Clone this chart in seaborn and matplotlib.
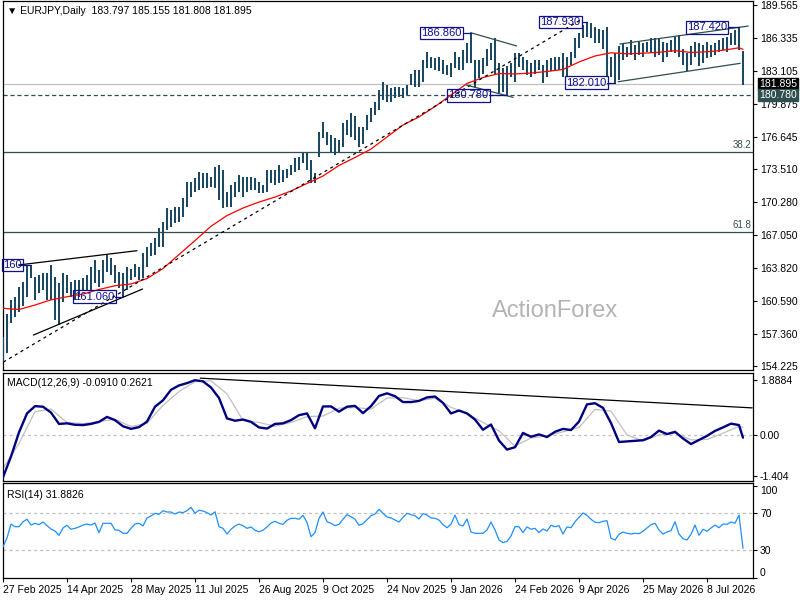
import numpy as np
import pandas as pd
import matplotlib
matplotlib.use("Agg")
import matplotlib.pyplot as plt
import matplotlib.transforms as mtransforms
import seaborn as sns

sns.set_theme(style="white")
plt.rcParams['font.family'] = ['Liberation Sans', 'DejaVu Sans']
plt.rcParams['lines.scale_dashes'] = False

# ---------------- data (one bar per 2 sessions) ----------------
highs = [157.1, 159.4, 160.7, 161.05, 162.0, 162.5, 164.15, 164.15, 163.0, 163.2,
         163.35, 163.35, 164.15, 163.0, 162.35, 163.35, 163.2, 162.5, 162.7, 162.7,
         162.85, 163.2, 164.0, 164.65, 163.65, 164.65, 165.1, 164.8, 164.15, 163.5,
         163.35, 164.0, 163.8, 164.3, 164.0, 165.3, 165.95, 166.3, 166.8, 167.75,
         168.4, 169.7, 169.5, 169.85, 169.85, 170.7, 172.3, 172.3, 172.65, 173.3,
         173.15, 173.15, 172.8, 173.8, 173.95, 173.45, 171.35, 172.0, 172.3, 172.95,
         172.8, 172.8, 172.8, 172.65, 172.3, 172.0, 173.45, 173.45, 173.45, 173.95,
         173.45, 173.6, 173.95, 174.6, 174.75, 175.1, 175.1, 174.45, 173.15, 177.2,
         178.2, 177.2, 176.9, 176.55, 176.4, 178.05, 178.35, 179.0, 178.7, 177.7,
         177.7, 178.85, 179.5, 180.15, 181.3, 182.1, 181.8, 181.45, 181.6, 181.6,
         181.45, 181.8, 182.9, 183.25, 183.25, 184.2, 185.05, 184.55, 184.4, 184.55,
         184.2, 183.75, 183.9, 185.05, 184.55, 185.2, 185.85, 186.86, 184.2, 184.2,
         184.4, 185.35, 185.85, 186.4, 183.9, 183.4, 183.6, 183.9, 184.9, 184.9,
         184.55, 184.2, 183.9, 184.2, 184.2, 183.75, 184.2, 184.4, 184.55, 184.55,
         184.9, 184.55, 185.05, 186.35, 186.9, 187.7, 187.93, 187.8, 187.5, 187.3,
         187.15, 187.5, 184.55, 184.9, 185.55, 185.85, 185.5, 186.2, 185.7, 186.0,
         185.85, 186.0, 186.35, 186.35, 186.35, 186.0, 185.85, 186.2, 186.5, 186.65,
         185.35, 184.9, 185.55, 186.0, 185.85, 185.7, 186.0, 185.7, 185.85, 186.2,
         186.35, 186.5, 186.85, 187.15, 187.42, 185.155]
lows = [154.7, 155.5, 158.45, 159.1, 159.6, 160.1, 161.05, 162.85, 160.7, 161.4,
        161.7, 160.7, 160.7, 158.8, 158.3, 160.55, 161.4, 161.05, 160.7, 161.05,
        161.7, 161.7, 161.7, 162.35, 162.0, 162.35, 163.5, 163.2, 162.35, 161.9,
        161.06, 161.7, 162.7, 163.0, 162.7, 162.85, 164.0, 165.0, 165.1, 165.95,
        165.95, 167.6, 167.9, 168.25, 168.4, 168.9, 169.85, 170.85, 171.3, 171.5,
        171.65, 171.65, 171.8, 171.65, 170.5, 169.7, 169.85, 169.85, 170.85, 171.35,
        170.85, 171.35, 171.5, 171.5, 171.2, 171.2, 171.35, 172.15, 172.0, 172.15,
        172.3, 172.65, 172.95, 173.3, 173.45, 174.1, 173.45, 172.15, 172.15, 174.75,
        176.55, 175.9, 175.25, 174.9, 175.25, 175.75, 176.9, 176.7, 176.4, 175.75,
        176.05, 177.35, 178.2, 178.85, 179.3, 180.3, 180.1, 180.15, 180.5, 180.6,
        180.5, 180.8, 181.8, 181.6, 181.6, 182.1, 183.4, 183.4, 183.25, 183.1,
        182.9, 182.75, 182.6, 183.4, 183.25, 183.25, 183.9, 183.9, 181.45, 182.45,
        182.9, 183.6, 184.2, 182.9, 180.95, 181.1, 180.78, 182.6, 182.1, 183.55,
        183.25, 182.75, 182.6, 182.9, 183.25, 181.95, 182.6, 183.1, 183.1, 183.25,
        182.6, 182.6, 183.75, 184.4, 185.4, 186.4, 186.5, 186.35, 185.85, 185.85,
        185.35, 182.7, 182.6, 182.01, 182.3, 184.2, 184.55, 184.7, 184.2, 184.7,
        184.55, 185.05, 184.9, 184.55, 184.7, 184.05, 184.55, 185.05, 184.9, 184.55,
        183.75, 183.1, 183.75, 184.55, 183.6, 183.9, 184.4, 184.55, 184.7, 185.05,
        185.2, 185.05, 185.7, 185.7, 185.2, 181.808]

ma_idx = list(range(0, 185, 4)) + [185]
ma_vals = [159.92, 159.80, 160.24, 160.75, 161.05, 161.32, 161.76, 162.13, 162.30, 162.83,
           163.81, 165.18, 166.55, 167.95, 169.00, 169.74, 170.32, 170.81, 171.40, 172.14,
           172.87, 173.90, 174.68, 175.51, 176.69, 177.86, 178.65, 179.67, 180.80, 181.93,
           182.51, 182.90, 182.86, 182.95, 183.10, 183.30, 184.03, 184.62, 184.93, 184.83,
           184.89, 184.98, 185.14, 184.96, 185.03, 185.18, 185.42, 185.27]

macd_idx = list(range(0, 185, 2)) + [185]
macd_vals = [-1.45, -0.74, 0.09, 0.74, 0.99, 0.97, 0.77, 0.38, 0.40, 0.35,
             0.34, 0.38, 0.45, 0.62, 0.51, 0.30, 0.21, 0.27, 0.46, 0.97,
             1.19, 1.55, 1.70, 1.78, 1.88, 1.84, 1.63, 1.27, 0.57, 0.49,
             0.53, 0.45, 0.26, 0.22, 0.38, 0.40, 0.51, 0.68, 0.74, 0.23,
             0.98, 0.98, 0.80, 0.97, 1.00, 0.75, 0.99, 1.34, 1.43, 1.33,
             1.13, 1.13, 1.17, 1.29, 1.32, 1.10, 0.74, 0.84, 0.74, 0.53,
             0.18, 0.36, -0.19, -0.50, -0.42, 0.07, -0.06, 0.02, -0.07, 0.11,
             0.21, 0.17, 0.46, 1.05, 1.09, 0.93, 0.41, -0.24, -0.22, -0.20,
             -0.18, -0.07, 0.15, 0.03, 0.11, -0.12, -0.31, -0.17, -0.03, 0.14,
             0.26, 0.39, 0.34, -0.091]

signal_idx = list(range(0, 185, 4)) + [185]
signal_vals = [-1.14, -0.29, 0.80, 0.89, 0.43, 0.39, 0.46, 0.54, 0.29, 0.40,
               1.02, 1.49, 1.83, 1.86, 1.41, 0.50, 0.43, 0.30, 0.43, 0.63,
               0.65, 0.92, 0.94, 0.89, 1.27, 1.28, 1.18, 1.26, 0.95, 0.74,
               0.43, 0.14, -0.38, -0.10, -0.03, 0.11, 0.26, 0.88, 0.82, 0.00,
               -0.20, 0.00, 0.06, -0.17, -0.15, 0.06, 0.30, 0.262]

rsi_vals = [33.6, 43.1, 58.3, 55.4, 55.4, 60.8, 63.5, 57.2, 59.1, 57.6,
            60.5, 56.5, 52.9, 50.7, 46.0, 54.0, 56.9, 52.6, 53.6, 55.1,
            57.2, 58.3, 57.2, 59.4, 48.9, 59.1, 59.1, 59.1, 51.8, 51.5,
            48.2, 48.2, 53.6, 58.3, 59.1, 56.2, 64.9, 67.1, 70.0, 68.9,
            72.8, 71.4, 71.4, 69.2, 71.4, 70.7, 72.8, 76.5, 70.0, 73.3,
            72.5, 70.7, 68.1, 71.7, 55.4, 53.6, 47.4, 52.6, 56.2, 58.3,
            56.5, 53.6, 55.1, 51.5, 49.9, 51.5, 55.1, 59.4, 61.3, 59.1,
            58.0, 62.4, 64.5, 64.5, 63.5, 67.8, 60.2, 44.5, 48.9, 64.5,
            71.4, 60.8, 59.1, 56.5, 58.0, 63.5, 68.5, 66.3, 63.5, 56.9,
            58.7, 63.0, 67.4, 69.2, 74.4, 70.0, 66.0, 64.9, 62.7, 60.5,
            65.6, 70.0, 68.5, 67.4, 63.8, 69.6, 68.1, 64.9, 64.5, 62.7,
            57.6, 54.3, 58.0, 68.1, 57.6, 56.2, 63.8, 49.6, 48.2, 48.2,
            48.2, 51.8, 60.5, 51.8, 40.9, 38.0, 39.5, 45.3, 55.4, 55.4,
            48.9, 55.1, 52.6, 53.6, 48.9, 52.9, 50.7, 56.9, 55.4, 56.5,
            47.4, 55.1, 54.3, 60.8, 65.6, 70.3, 67.8, 63.5, 60.2, 59.8,
            61.3, 61.9, 42.7, 40.9, 47.1, 49.6, 48.2, 47.4, 48.2, 47.8,
            50.4, 54.0, 57.6, 59.1, 51.8, 47.4, 49.6, 51.0, 60.8, 47.4,
            42.3, 40.9, 47.1, 57.2, 46.0, 52.6, 50.4, 54.0, 57.2, 54.3,
            58.3, 58.0, 60.5, 59.1, 68.1, 31.88]

date_labels = ["27 Feb 2025", "14 Apr 2025", "28 May 2025", "11 Jul 2025", "26 Aug 2025",
               "9 Oct 2025", "24 Nov 2025", "9 Jan 2026", "24 Feb 2026", "9 Apr 2026",
               "25 May 2026", "8 Jul 2026"]
date_idx = list(range(0, 177, 16))

price_ticks = [189.565, 186.335, 183.105, 179.875, 176.645, 173.510,
               170.280, 167.050, 163.820, 160.590, 157.360, 154.225]
macd_ticks = [1.8884, 0.0, -1.404]
macd_tick_labels = ["1.8884", "0.00", "-1.404"]
rsi_ticks = [100, 70, 30, 0]

last_close = 181.895
support_level = 180.780
fib_levels = [175.24, 167.39]
fib_names = ["38.2", "61.8"]

# price labels (text, x index of box centre, price, connector from, connector to)
price_labels = [("186.860", 109.6, 186.86, 115.2, 117),
                ("187.930", 139.4, 187.93, 144.8, 146),
                ("187.420", 176.0, 187.42, 181.2, 184),
                ("182.010", 145.9, 182.01, 151.0, 153),
                ("180.780", 116.3, 180.78, 121.5, 126),
                ("161.060", 22.9, 161.06, 28.0, 30)]
# label cut by the left edge in the original: only its tail "160" is visible
edge_label = ("160", 0.0, 164.16, 3.9, 7.0)

# trend lines: x0, y0, x1, y1, colour, linestyle
trendlines = [(0.1, 154.66, 144.6, 188.20, "black", (0, (2.2, 2.6))),
              (3.9, 164.16, 33.5, 165.56, "black", "-"),
              (7.6, 157.30, 34.9, 161.81, "black", "-"),
              (116.9, 186.90, 128.4, 185.60, "#2f4f4f", "-"),
              (115.8, 181.78, 127.5, 180.57, "#2f4f4f", "-"),
              (154.2, 185.79, 186.3, 187.55, "#2f4f4f", "-"),
              (153.8, 182.10, 184.3, 183.90, "#2f4f4f", "-")]
macd_trend = (49.3, 1.95, 187.3, 0.93)

# ---------------- figure ----------------
fig = plt.figure(figsize=(8, 6), dpi=100)
L, W = 2.5 / 800, 750.5 / 800
ax = fig.add_axes([L, 1 - 370 / 600, W, 369.5 / 600])
axm = fig.add_axes([L, 1 - 480.5 / 600, W, 108 / 600])
axr = fig.add_axes([L, 1 - 578 / 600, W, 95 / 600])

XL = (-0.125, 187.5)
bar_col = "#1b4a60"
navy = "#10108a"
lab_fs = 7.5

for a in (ax, axm, axr):
    a.set_xlim(*XL)
    a.set_facecolor("white")
    for s in a.spines.values():
        s.set_color("black")
        s.set_linewidth(0.9)
    a.yaxis.tick_right()
    a.tick_params(axis="y", direction="out", length=3, width=0.8, pad=2,
                  labelsize=lab_fs, colors="black", right=True, left=False)
    a.set_xlabel("")
    a.set_ylabel("")

# ---- main panel ----
ax.set_ylim(153.88, 190.05)
idx = np.arange(len(highs))
ax.axhline(last_close, color="#c0c0c0", lw=0.9, zorder=1)
ax.axhline(support_level, color="#2f4f4f", lw=0.9, ls=(0, (3, 2)), zorder=1)
for lv, nm in zip(fib_levels, fib_names):
    ax.axhline(lv, color="#2f4f4f", lw=0.9, zorder=1)
    ax.text(187.0, lv + 0.15, nm, ha="right", va="bottom", fontsize=7, color="#2f4f4f")

ax.vlines(idx, lows, highs, color=bar_col, lw=1.45, zorder=3)
sns.lineplot(x=ma_idx, y=ma_vals, ax=ax, color="#ff0000", linewidth=0.9, zorder=4)

for x0, y0, x1, y1, c, ls in trendlines:
    ax.plot([x0, x1], [y0, y1], color=c, lw=0.9, ls=ls, zorder=5)

box = dict(boxstyle="square,pad=0.12", fc="none", ec=navy, lw=0.9)
for txt, xc, yv, c0, c1 in price_labels:
    ax.plot([c0, c1], [yv, yv], color=navy, lw=0.9, zorder=6)
    ax.text(xc, yv, txt, ha="center", va="center", fontsize=8, color=navy, zorder=7,
            bbox=box)
txt, xl, yv, c0, c1 = edge_label
ax.plot([c0, c1], [yv, yv], color=navy, lw=0.9, zorder=6)
ax.text(xl, yv, txt, ha="left", va="center", fontsize=8, color=navy, zorder=7, bbox=box)

ax.text(0.736, 0.16, "ActionForex", transform=ax.transAxes, ha="center", va="center",
        fontsize=17, color="#b4b4b4", zorder=2)
ax.text(0.006, 0.986, "\u25bc EURJPY,Daily  183.797 185.155 181.808 181.895",
        transform=ax.transAxes, ha="left", va="top", fontsize=lab_fs, color="black",
        family=["Liberation Sans", "DejaVu Sans"])

ax.set_yticks(price_ticks)
ax.set_yticklabels([f"{v:.3f}" for v in price_ticks])
ax.set_xticks([])
bt = mtransforms.blended_transform_factory(ax.transAxes, ax.transData)
ax.text(1.008, last_close, f"{last_close:.3f}", transform=bt, ha="left", va="center",
        fontsize=lab_fs, color="white", clip_on=False, zorder=10,
        bbox=dict(boxstyle="square,pad=0.1", fc="black", ec="black"))
ax.text(1.008, support_level, f"{support_level:.3f}", transform=bt, ha="left", va="center",
        fontsize=lab_fs, color="white", clip_on=False, zorder=10,
        bbox=dict(boxstyle="square,pad=0.1", fc="#2f4f4f", ec="#2f4f4f"))

# ---- MACD panel ----
axm.set_ylim(-1.561, 2.144)
axm.axhline(0, color="#c0c0c0", lw=0.9, ls=(0, (2.2, 2.2)), zorder=1)
sns.lineplot(x=signal_idx, y=signal_vals, ax=axm, color="#c0c0c0", linewidth=0.9, zorder=2)
sns.lineplot(x=macd_idx, y=macd_vals, ax=axm, color="#000080", linewidth=1.7, zorder=3)
axm.plot([macd_trend[0], macd_trend[2]], [macd_trend[1], macd_trend[3]],
         color="black", lw=0.9, zorder=4)
axm.set_yticks(macd_ticks)
axm.set_yticklabels(macd_tick_labels)
axm.set_xticks([])
axm.text(0.006, 0.95, "MACD(12,26,9) -0.0910 0.2621", transform=axm.transAxes,
         ha="left", va="top", fontsize=lab_fs, color="black")

# ---- RSI panel ----
axr.set_ylim(-0.5, 103.0)
for lv in (70, 30):
    axr.axhline(lv, color="#c0c0c0", lw=0.9, ls=(0, (2.2, 2.2)), zorder=1)
sns.lineplot(x=list(range(len(rsi_vals))), y=rsi_vals, ax=axr, color="#1e90ff",
             linewidth=0.9, zorder=3)
axr.set_yticks(rsi_ticks)
axr.set_yticklabels([str(v) for v in rsi_ticks])
for lbl, v in zip(axr.get_yticklabels(), rsi_ticks):
    if v == 100:
        lbl.set_va("top")
    elif v == 0:
        lbl.set_va("bottom")
axr.text(0.006, 0.93, "RSI(14) 31.8826", transform=axr.transAxes,
         ha="left", va="top", fontsize=lab_fs, color="black")
axr.set_xticks(date_idx)
axr.set_xticklabels(date_labels, ha="left")
axr.tick_params(axis="x", direction="out", length=3, width=0.8, pad=2,
                labelsize=lab_fs, colors="black", bottom=True)

for a in (ax, axm, axr):
    leg = a.get_legend()
    if leg:
        leg.remove()
    a.set_xlim(*XL)

fig.savefig("out.png", dpi=100)
